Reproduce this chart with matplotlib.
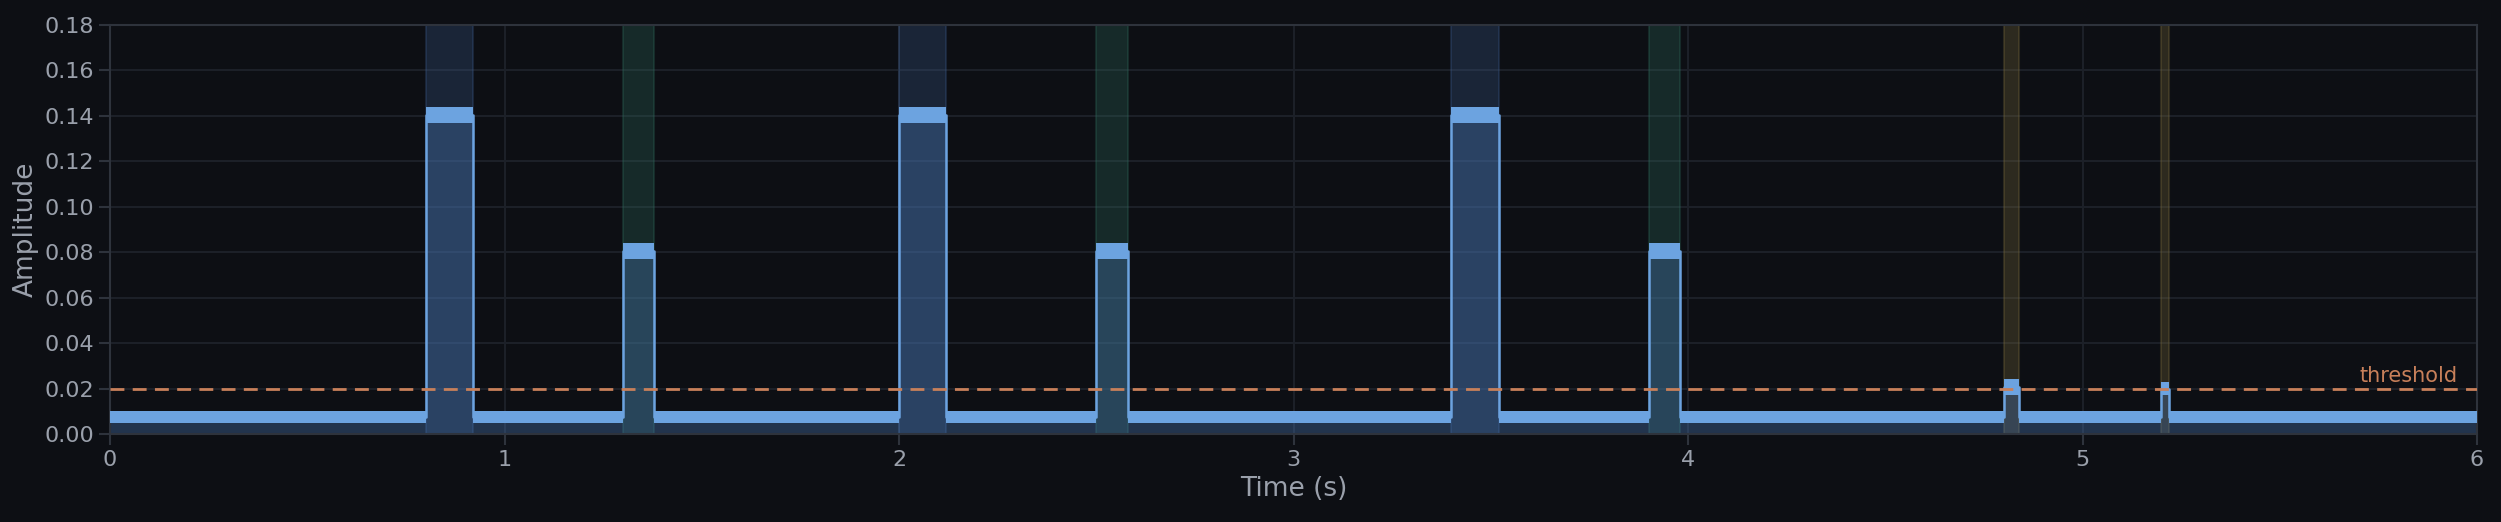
import numpy as np
import matplotlib
matplotlib.use("Agg")
import matplotlib.pyplot as plt

# Segments of the signal: start, end, low envelope, high envelope
seg_start = [0.00, 0.80, 0.92, 1.30, 1.38, 2.00, 2.12, 2.50, 2.58, 3.40, 3.52, 3.90, 3.98, 4.80, 4.84, 5.20, 5.22]
seg_end   = [0.80, 0.92, 1.30, 1.38, 2.00, 2.12, 2.50, 2.58, 3.40, 3.52, 3.90, 3.98, 4.80, 4.84, 5.20, 5.22, 6.00]
seg_low   = [0.005, 0.137, 0.005, 0.077, 0.005, 0.137, 0.005, 0.077, 0.005, 0.137, 0.005, 0.077, 0.005, 0.017, 0.005, 0.017, 0.005]
seg_high  = [0.010, 0.144, 0.010, 0.084, 0.010, 0.144, 0.010, 0.084, 0.010, 0.144, 0.010, 0.084, 0.010, 0.024, 0.010, 0.023, 0.010]

# Highlighted event windows
ev_start = [0.80, 1.30, 2.00, 2.50, 3.40, 3.90, 4.80, 5.20]
ev_end   = [0.92, 1.38, 2.12, 2.58, 3.52, 3.98, 4.84, 5.22]
ev_kind  = ["big", "mid", "big", "mid", "big", "mid", "small", "small"]
threshold = 0.02

bg = "#0d0f14"
W, H = 2501, 522
fig = plt.figure(figsize=(W/100, H/100), dpi=100, facecolor=bg)
ax = fig.add_axes([110/W, 1-434/H, (2477-110)/W, (434-25)/H])
ax.set_facecolor(bg)

kind_col = {"big": "#3a5a8a", "mid": "#2e6a5a", "small": "#7a6a3a"}
for s, e, k in zip(ev_start, ev_end, ev_kind):
    ax.axvspan(s, e, color=kind_col[k], alpha=0.3, lw=1.5, zorder=1)

xs, lo, hi = [], [], []
for s, e, l, h in zip(seg_start, seg_end, seg_low, seg_high):
    xs += [s, e]; lo += [l, l]; hi += [h, h]
xs = np.array(xs); lo = np.array(lo); hi = np.array(hi)
ax.fill_between(xs, 0, hi, color="#4a7ab8", alpha=0.35, lw=0, zorder=2)
ax.fill_between(xs, lo, hi, color="#6ca3e0", lw=0, zorder=3)
ax.plot(xs, (lo + hi) / 2, color="#6ca3e0", lw=1.8, zorder=3)

ax.axhline(threshold, color="#c8805a", ls=(0, (5, 3)), lw=2, zorder=4)
ax.text(5.95, threshold + 0.0012, "threshold", color="#c8805a", ha="right", va="bottom", fontsize=15)

ax.set_xlim(0, 6)
ax.set_ylim(0, 0.18)
ax.set_xticks(range(7))
ax.set_yticks(np.arange(0, 0.181, 0.02))
ax.set_yticklabels([f"{v:.2f}" for v in np.arange(0, 0.181, 0.02)])
ax.grid(True, color="#1c2028", lw=1.5)
ax.set_axisbelow(True)
for sp in ax.spines.values():
    sp.set_color("#2e333c"); sp.set_linewidth(1.5)
ax.tick_params(colors="#9aa0ab", labelsize=16, length=8, width=1.5, color="#2e333c")
ax.set_xlabel("Time (s)", color="#9aa0ab", fontsize=19)
ax.set_ylabel("Amplitude", color="#9aa0ab", fontsize=19)
fig.savefig("out.png", dpi=100, facecolor=bg)
